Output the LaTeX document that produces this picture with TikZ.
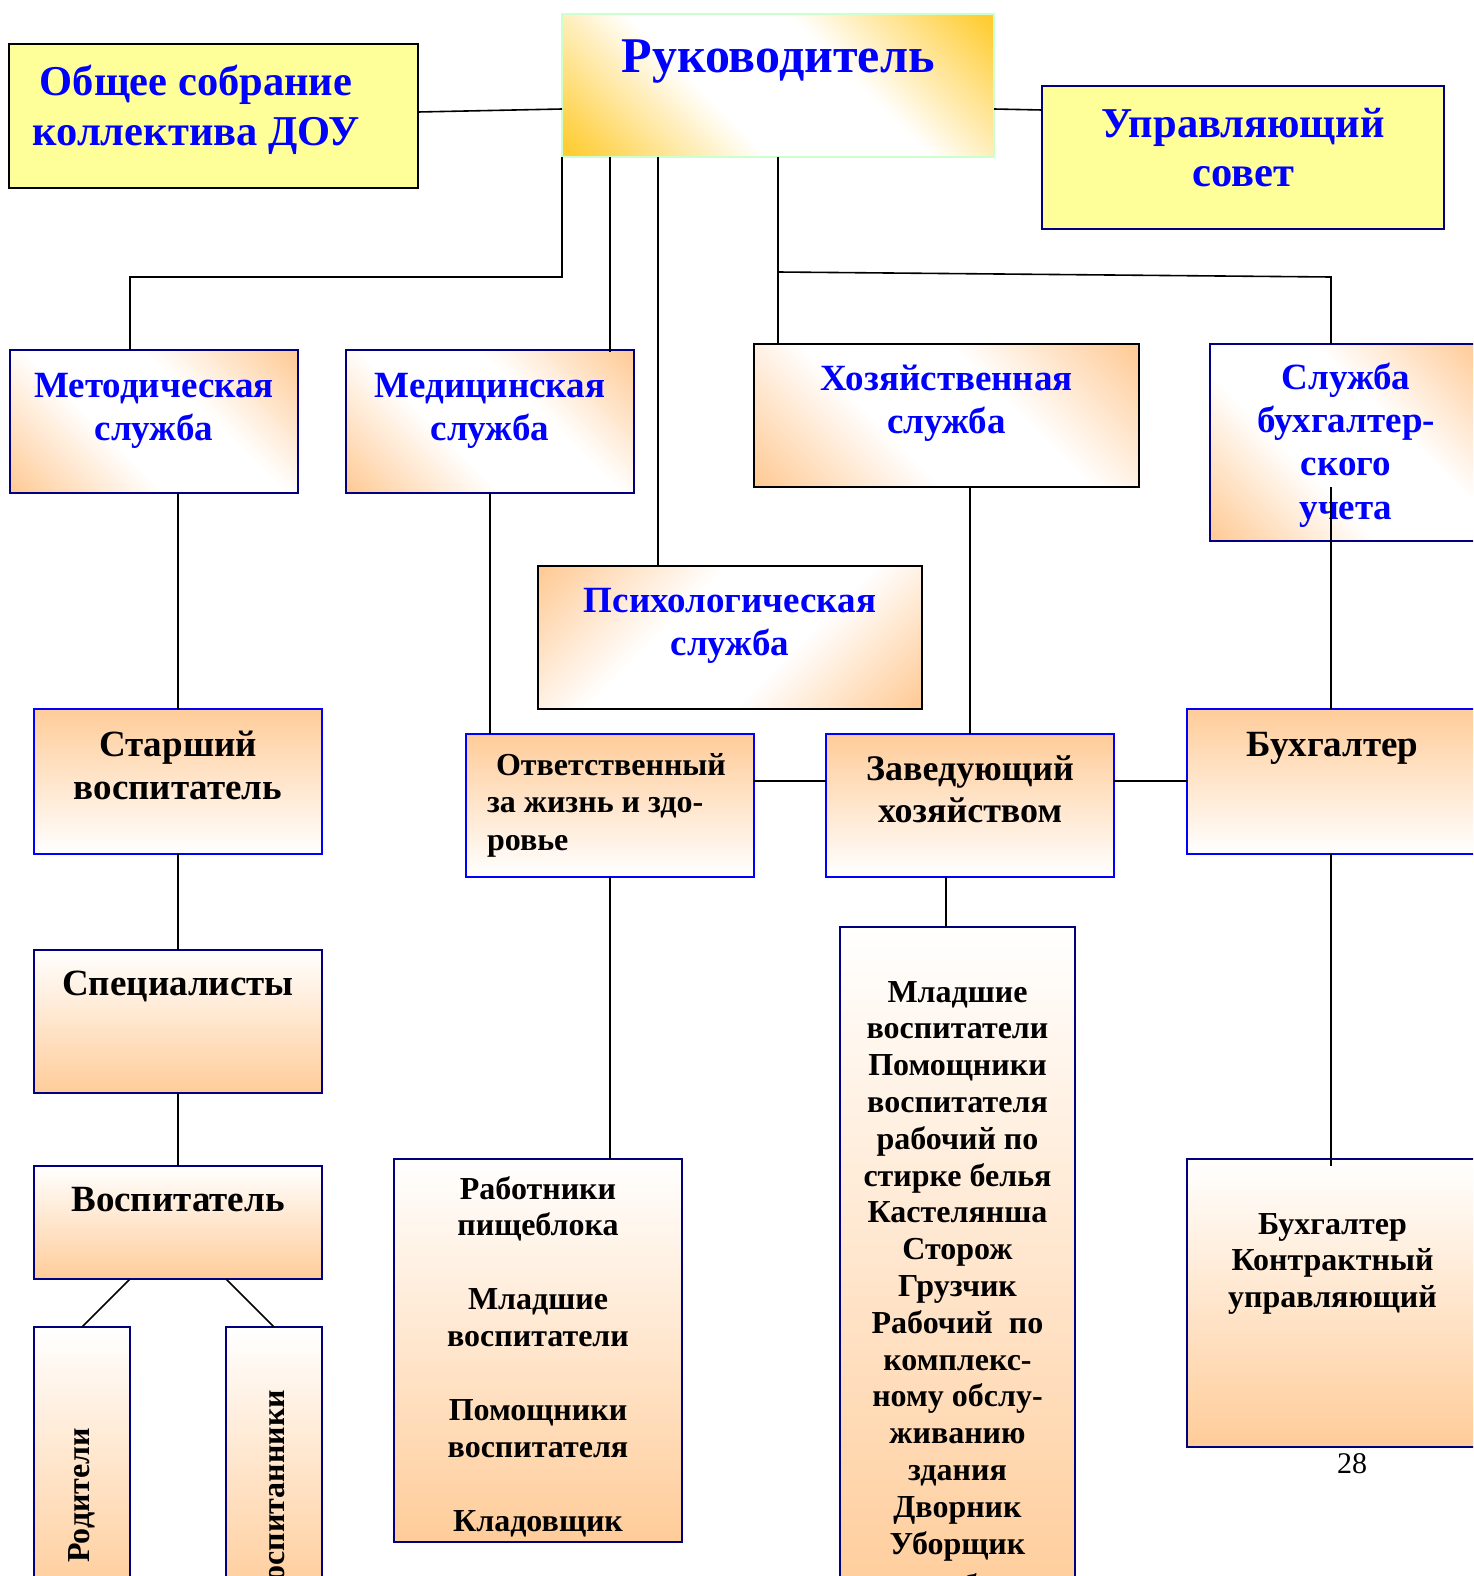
\documentclass[tikz,border=0pt]{standalone}
\usepackage{fontspec}
\setmainfont{Liberation Serif}
\definecolor{peach}{RGB}{255,204,153}
\definecolor{gold}{RGB}{255,204,51}
\definecolor{lemon}{RGB}{255,255,153}
\definecolor{navy}{RGB}{0,0,128}
\definecolor{pblue}{RGB}{0,0,255}
\definecolor{pgreen}{RGB}{204,255,204}
\pgfdeclareverticalshading{diagpeach}{100bp}{color(0bp)=(peach); color(16bp)=(peach); color(40bp)=(white); color(60bp)=(white); color(84bp)=(peach); color(100bp)=(peach)}
\pgfdeclareverticalshading{diaggold}{100bp}{color(0bp)=(gold); color(16bp)=(gold); color(40bp)=(white); color(60bp)=(white); color(84bp)=(gold); color(100bp)=(gold)}
\newcommand{\fsz}[2]{\fontsize{#1pt}{#2pt}\selectfont\bfseries}
% #1 name, #2 style, #3 x1, #4 y1, #5 x2, #6 y2, #7 first baseline offset, #8 text
\newcommand{\orgbox}[8]{%
  \pgfmathsetmacro{\obW}{#5-#3}%
  \pgfmathsetmacro{\obH}{#6-#4}%
  \node[#2, anchor=north west, inner sep=0pt, outer sep=0pt] (#1) at (#3,#4)
   {\parbox[c][\obH pt][t]{\obW pt}{\centering\rule{0pt}{#7pt}#8\par}};}
\newcommand{\rotbox}[8]{%
  \pgfmathsetmacro{\obW}{#5-#3}%
  \pgfmathsetmacro{\obH}{#6-#4}%
  \node[#2, anchor=north west, inner sep=0pt, outer sep=0pt] (#1) at (#3,#4)
   {\parbox[c][\obH pt][t]{\obW pt}{\centering\vspace*{#7pt}\rotatebox{90}{#8}\par}};}
\begin{document}
\begin{tikzpicture}[x=1pt,y=-1pt,
  conn/.style={draw=black, line width=1.6pt},
  bx/.style={line width=2pt},
  diagA/.style={shade, shading=diagpeach, shading angle=-45},
  diagB/.style={shade, shading=diagpeach, shading angle=45},
  diagG/.style={shade, shading=diaggold, shading angle=-45},
  vdown/.style={top color=peach, bottom color=white},
  vup/.style={top color=white, bottom color=peach},
  yel/.style={fill=lemon},
  svc/.style={bx, text=pblue, font=\fsz{37}{43}},
  big/.style={bx, text=black, font=\fsz{37}{43}},
  small/.style={bx, text=black, font=\fsz{32}{36.9}}
]
\useasboundingbox (0,0) rectangle (1473,1576);
\clip (0,0) rectangle (1473,1576);

% top row
\orgbox{ruk}{bx, draw=pgreen, diagG, text=pblue, font=\fsz{50}{58}}{562}{14}{994}{157}{58}{Руководитель}
\orgbox{obs}{bx, draw=black, yel, text=pblue, font=\fsz{42.5}{50}}{9}{44}{418}{188}{52}{Общее собрание\kern35pt\\коллектива ДОУ\kern35pt}
\orgbox{upr}{bx, draw=navy, yel, text=pblue, font=\fsz{42.5}{50}}{1042}{86}{1444}{229}{51}{Управляющий\\совет}

% services
\orgbox{met}{svc, draw=navy, diagA}{10}{350}{298}{493}{47}{Методическая\\служба}
\orgbox{med}{svc, draw=navy, diagA}{346}{350}{634}{493}{47}{Медицинская\\служба}
\orgbox{hoz}{svc, draw=black, diagA}{754}{344}{1139}{487}{46}{Хозяйственная\\служба}
\orgbox{sbu}{svc, draw=navy, diagA, font=\fsz{37}{43.4}}{1210}{344}{1482}{541}{45}{Служба\\бухгалтер-\\ского\\учета}
\orgbox{psy}{svc, draw=black, diagB}{538}{566}{922}{709}{46}{Психологическая\\служба}

% second level
\orgbox{star}{big, draw=pblue, vdown}{34}{709}{322}{854}{47}{Старший\\воспитатель}
\orgbox{otv}{small, draw=pblue, vdown, font=\fsz{32}{37.5}}{466}{734}{754}{877}{41}{\raggedright\leftskip=21pt\relax\hspace*{9pt}Ответственный\\за жизнь и здо-\\ровье}
\orgbox{zav}{big, draw=pblue, vdown, font=\fsz{36}{42}}{826}{734}{1114}{877}{46}{Заведующий\\хозяйством}
\orgbox{bux}{big, draw=pblue, vdown}{1187}{709}{1478}{854}{47}{Бухгалтер}

\orgbox{spec}{big, draw=navy, vup}{34}{950}{322}{1093}{45}{Специалисты}
\orgbox{vosp}{big, draw=navy, vup}{34}{1166}{322}{1279}{45}{Воспитатель}
\rotbox{rod}{small, draw=navy, vup}{34}{1327}{130}{1600}{101}{Родители}
\rotbox{vsp}{small, draw=navy, vup}{226}{1327}{322}{1600}{63}{Воспитанники}

\orgbox{rab}{small, draw=navy, vup}{394}{1159}{682}{1542}{40}{Работники\\пищеблока\\[36.9pt]Младшие\\воспитатели\\[36.9pt]Помощники\\воспитателя\\[36.9pt]Кладовщик}
\orgbox{mlad}{small, draw=navy, vup, font=\fsz{32}{36.8}}{840}{927}{1075}{1610}{75}{Младшие\\воспитатели\\Помощники\\воспитателя\\рабочий по\\стирке белья\\Кастелянша\\Сторож\\Грузчик\\Рабочий\ \ по\\комплекс-\\ному обслу-\\живанию\\здания\\Дворник\\Уборщик\\[6pt]служебных}
\orgbox{kon}{small, draw=navy, vup, font=\fsz{32}{36.5}}{1187}{1159}{1478}{1447}{75}{Бухгалтер\\Контрактный\\управляющий}

\node[anchor=base, font=\fontsize{30pt}{34pt}\selectfont] (pg) at (1352,1473) {28};

% connectors
\draw[conn] (obs.east |- 0,112) -- (ruk.west |- 0,109);
\draw[conn] (ruk.east |- 0,109) -- (upr.west |- 0,110);
\draw[conn] (ruk.south west) -- (562,277) -- (130,277) -- (met.north -| 130,0);
\draw[conn] (ruk.south -| 610,0) -- ([yshift=-2pt]med.north -| 610,0);
\draw[conn] (ruk.south -| 658,0) -- (psy.north -| 658,0);
\draw[conn] (ruk.south -| 778,0) -- (hoz.north -| 778,0);
\coordinate (j1) at (778,272);
\draw[conn] (j1) -- (1331,277) -- (sbu.north -| 1331,0);
\coordinate (sbuin) at (1331,487);
\draw[conn] (sbuin) -- (bux.north -| 1331,0);
\draw[conn] (star.north |- met.south) -- (star.north);
\draw[conn] (star.south) -- (spec.north);
\draw[conn] (spec.south) -- (vosp.north);
\draw[conn] (vosp.south -| 130,0) -- (rod.north);
\draw[conn] (vosp.south -| 226,0) -- (vsp.north);
\draw[conn] (med.south) -- (med.south |- otv.north);
\draw[conn] (otv.east |- 0,781) -- (zav.west |- 0,781);
\draw[conn] (zav.east |- 0,781) -- (bux.west |- 0,781);
\draw[conn] (zav.north |- hoz.south) -- (zav.north);
\draw[conn] (zav.south -| 946,0) -- (mlad.north -| 946,0);
\draw[conn] (otv.south) -- (otv.south |- rab.north);
\draw[conn] (bux.south -| 1331,0) -- ([yshift=-7pt]kon.north -| 1331,0);
\end{tikzpicture}
\end{document}
